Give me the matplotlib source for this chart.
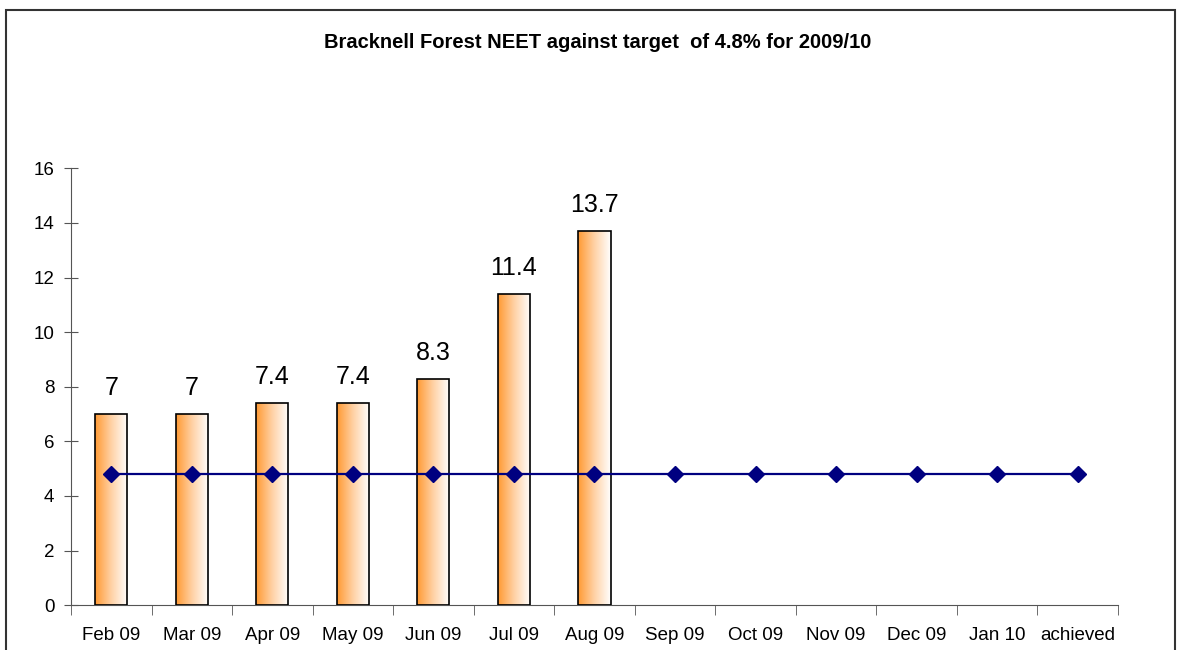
import numpy as np
import matplotlib.pyplot as plt
from matplotlib.patches import Rectangle
from matplotlib.colors import LinearSegmentedColormap

plt.rcParams['font.family'] = ['Liberation Sans', 'DejaVu Sans']

months = ['Feb 09', 'Mar 09', 'Apr 09', 'May 09', 'Jun 09', 'Jul 09', 'Aug 09',
          'Sep 09', 'Oct 09', 'Nov 09', 'Dec 09', 'Jan 10', 'achieved']
neet = [7, 7, 7.4, 7.4, 8.3, 11.4, 13.7]
target = [4.8] * 13

fig = plt.figure(figsize=(11.83, 6.5), dpi=100)
ax = fig.add_axes([0.060, 0.069, 0.885, 0.672])

# outer frame (bottom edge is cut off in the original)
fig.patches.append(Rectangle((6 / 1183, -0.05), 1169 / 1183, 1.05 - 10 / 650,
                             transform=fig.transFigure, fill=False,
                             edgecolor='#333333', lw=1.5))

x = np.arange(len(months))
bw = 0.4
grad = np.linspace(0, 1, 256).reshape(1, -1)
cmap = LinearSegmentedColormap.from_list('og', ['#FF9A33', '#FFD2A6', '#FFFFFF'])

bars = ax.bar(x[:len(neet)], neet, width=bw, facecolor='none', edgecolor='black',
              lw=1.2, zorder=3)
for b, v in zip(bars, neet):
    x0 = b.get_x()
    im = ax.imshow(grad, cmap=cmap, aspect='auto', extent=[x0, x0 + bw, 0, v],
                   zorder=2, interpolation='bilinear')
    im.set_clip_path(b)
    ax.text(b.get_x() + bw / 2, v + 0.5, f'{v:g}', ha='center', va='bottom',
            fontsize=18)

ax.plot(x, target, color='#000080', marker='D', markersize=8, lw=1.6, zorder=4)

ax.set_xlim(-0.5, len(months) - 0.5)
ax.set_ylim(0, 16)
ax.set_yticks(range(0, 17, 2))
ax.set_xticks(x)
ax.set_xticklabels(months, fontsize=13.5)
ax.set_xticks(np.arange(-0.5, len(months), 1), minor=True)
ax.tick_params(axis='x', which='major', length=0, pad=16)
ax.tick_params(axis='x', which='minor', length=7, color='#555555', direction='out')
ax.tick_params(axis='y', labelsize=13.5, length=10, color='#555555', direction='inout', pad=7)
for s in ['top', 'right']:
    ax.spines[s].set_visible(False)
for s in ['left', 'bottom']:
    ax.spines[s].set_color('#555555')

fig.text(0.505, 0.935, 'Bracknell Forest NEET against target  of 4.8% for 2009/10',
         ha='center', va='center', fontsize=14.5, fontweight='bold')

fig.savefig('out.png', dpi=100)
